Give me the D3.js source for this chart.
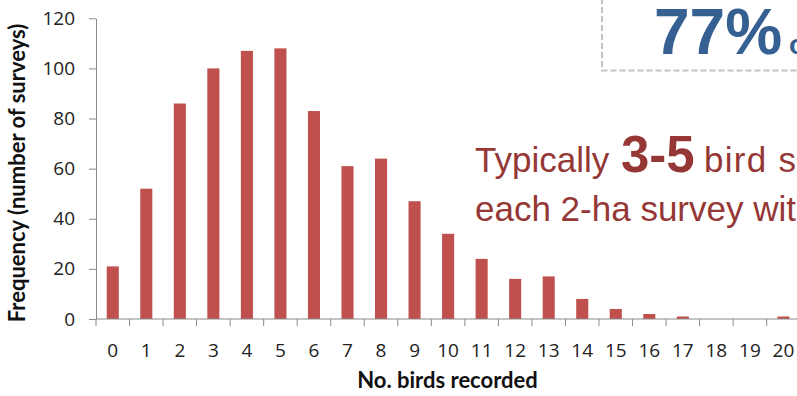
<!DOCTYPE html>
<html>
<head>
<meta charset="utf-8">
<script src="https://cdn.jsdelivr.net/npm/d3@7"></script>
<style>
  html, body { margin: 0; padding: 0; background: #fff; overflow: hidden; }
  svg { display: block; }
</style>
</head>
<body>
<svg id="chart" width="797" height="396"></svg>
<script>
// Data
const categories = ["0","1","2","3","4","5","6","7","8","9","10","11","12","13","14","15","16","17","18","19","20"];
const frequencies = [21, 52, 86, 100, 107, 108, 83, 61, 64, 47, 34, 24, 16, 17, 8, 4, 2, 1, 0, 0, 1];
const yTicks = [0, 20, 40, 60, 80, 100, 120];
const yTitle = "Frequency (number of surveys)";
const xTitle = "No. birds recorded";
const bigStat = "77%";
const bigStatRest = "of surveys";
const noteLine1a = "Typically";
const noteLine1b = "3-5";
const noteLine1c = "bird species";
const noteLine2 = "each 2-ha survey within";

const svg = d3.select("#chart");
const axisColor = "#898989";
const barColor = "#C0504D";
const noteColor = "#953735";
const statColor = "#376092";
const tickFont = "'Open Sans', sans-serif";

const x = d3.scaleBand().domain(categories).range([96, 800.2]).paddingInner(0.64).paddingOuter(0.32);
const y = d3.scaleLinear().domain([0, 120]).range([319, 18.3]);

// Dashed box (top-right)
svg.append("rect")
  .attr("x", 602).attr("y", -10).attr("width", 300).attr("height", 80.5)
  .attr("fill", "none").attr("stroke", "#c3c3c3").attr("stroke-width", 2)
  .attr("stroke-dasharray", "6,3");

// Bars
svg.append("g").selectAll("rect").data(frequencies).join("rect")
  .attr("x", (d, i) => x(categories[i]))
  .attr("y", d => y(d))
  .attr("width", x.bandwidth())
  .attr("height", d => y(0) - y(d))
  .attr("fill", barColor);

// Y axis
const yAxis = svg.append("g").attr("transform", "translate(96,0)")
  .call(d3.axisLeft(y).tickValues(yTicks).tickSize(7).tickPadding(14).tickSizeOuter(0));
yAxis.select(".domain").attr("stroke", axisColor);
yAxis.selectAll(".tick line").attr("stroke", axisColor);
yAxis.selectAll(".tick text")
  .attr("font-family", tickFont).attr("font-size", 19).attr("fill", "#222");

// X axis (ticks at band boundaries)
const xAxisG = svg.append("g").attr("transform", "translate(0,319)");
xAxisG.append("line").attr("x1", 96).attr("x2", 800).attr("y1", 0).attr("y2", 0).attr("stroke", axisColor);
const step = x.step();
const boundaries = d3.range(categories.length + 1).map(i => x.range()[0] + i * step);
xAxisG.selectAll("line.tk").data(boundaries).join("line")
  .attr("class", "tk")
  .attr("x1", d => d).attr("x2", d => d).attr("y1", 0).attr("y2", 7)
  .attr("stroke", axisColor);
xAxisG.selectAll("text").data(categories).join("text")
  .attr("x", d => x(d) + x.bandwidth() / 2)
  .attr("y", 37.8)
  .attr("text-anchor", "middle")
  .attr("font-family", tickFont).attr("font-size", 19).attr("fill", "#222")
  .text(d => d);

// Axis titles
svg.append("text")
  .attr("transform", "translate(25,173) rotate(-90)")
  .attr("text-anchor", "middle")
  .attr("font-family", "Lato, sans-serif").attr("font-weight", "bold").attr("font-size", 22)
  .attr("fill", "#111")
  .text(yTitle);

svg.append("text")
  .attr("x", 447.5).attr("y", 388)
  .attr("text-anchor", "middle")
  .attr("font-family", "Lato, sans-serif").attr("font-weight", "bold").attr("font-size", 22)
  .attr("fill", "#111")
  .text(xTitle);

// Big stat
const stat = svg.append("text")
  .attr("x", 654).attr("y", 54)
  .attr("font-family", "Liberation Sans, Arial, sans-serif").attr("font-weight", "bold")
  .attr("fill", statColor);
stat.append("tspan").attr("font-size", 64).text(bigStat);
stat.append("tspan").attr("x", 789).attr("font-size", 28).text(bigStatRest);

// Note
const note = svg.append("text")
  .attr("x", 475).attr("y", 171.5)
  .attr("font-family", "Liberation Sans, Arial, sans-serif").attr("font-size", 35)
  .attr("fill", noteColor);
note.append("tspan").text(noteLine1a);
note.append("tspan").attr("x", 621).attr("font-size", 51).attr("font-weight", "bold").text(noteLine1b);
note.append("tspan").attr("x", 704).attr("letter-spacing", 1.3).text(noteLine1c);

svg.append("text")
  .attr("x", 475).attr("y", 221)
  .attr("font-family", "Liberation Sans, Arial, sans-serif").attr("font-size", 35)
  .attr("fill", noteColor)
  .text(noteLine2);
</script>
</body>
</html>
